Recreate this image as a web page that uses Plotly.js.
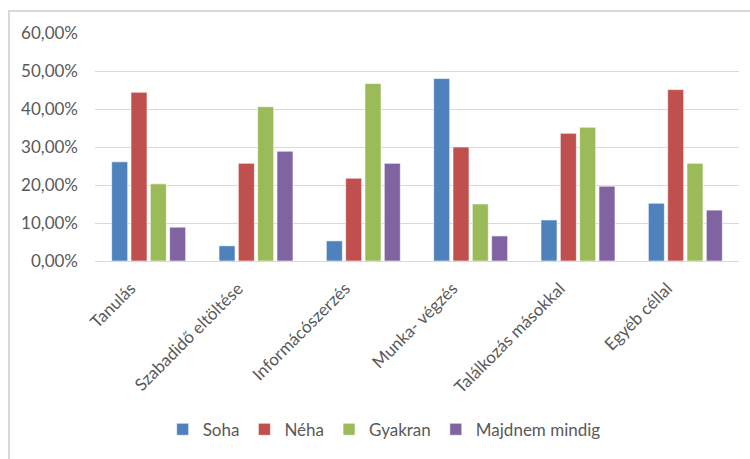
<!DOCTYPE html>
<html>
<head>
<meta charset="utf-8">
<script src="https://cdn.plot.ly/plotly-3.0.1.min.js"></script>
<style>
html,body{margin:0;padding:0;background:#fff;}
#wrap{position:relative;width:750px;height:459px;overflow:hidden;}
#frame{position:absolute;left:8px;top:10px;width:742px;height:449px;border-top:2px solid #D9D9D9;border-left:2px solid #D9D9D9;box-sizing:border-box;pointer-events:none;}
#chart{position:absolute;left:0;top:0;width:750px;height:459px;}
</style>
</head>
<body>
<div id="wrap"><div id="chart"></div><div id="frame"></div></div>
<script>
const categories = ["Tanulás", "Szabadidő eltöltése", "Informácószerzés", "Munka- végzés", "Találkozás másokkal", "Egyéb céllal"];
const seriesNames = ["Soha", "Néha", "Gyakran", "Majdnem mindig"];
const soha = [0.261, 0.040, 0.053, 0.480, 0.108, 0.152];
const neha = [0.444, 0.257, 0.218, 0.300, 0.336, 0.451];
const gyakran = [0.203, 0.406, 0.467, 0.150, 0.352, 0.257];
const majdnem = [0.089, 0.289, 0.257, 0.066, 0.197, 0.134];
const colors = ["#4F81BD", "#C0504D", "#9BBB59", "#8064A2"];

const values = [soha, neha, gyakran, majdnem];
const traces = values.map((v, i) => ({
  type: "bar",
  name: seriesNames[i],
  x: categories,
  y: v,
  marker: {color: colors[i], line: {color: "rgba(255,255,255,0.6)", width: 1}},
  hoverinfo: "x+y+name"
}));

const layout = {
  width: 750,
  height: 459,
  margin: {l: 95, r: 11, t: 33, b: 195},
  paper_bgcolor: "#ffffff",
  plot_bgcolor: "#ffffff",
  separators: ", ",
  font: {family: "Lato, 'Open Sans', sans-serif", size: 17, color: "#595959"},
  barmode: "group",
  bargap: 0.28,
  bargroupgap: 0.17,
  showlegend: true,
  legend: {
    orientation: "h",
    x: 0.449, xanchor: "center",
    y: -0.74, yanchor: "middle",
    font: {size: 17, color: "#595959"},
    itemwidth: 30,
    traceorder: "normal"
  },
  xaxis: {
    type: "category",
    tickangle: -45,
    showgrid: false,
    showline: true,
    linecolor: "#D9D9D9",
    linewidth: 1,
    ticks: "",
    ticklabelstandoff: 10,
    ticklabelshift: -18,
    tickfont: {size: 17, color: "#595959"},
    fixedrange: true
  },
  yaxis: {
    range: [0, 0.6],
    dtick: 0.1,
    tickformat: ".2%",
    showgrid: true,
    gridcolor: "#D9D9D9",
    gridwidth: 1,
    zeroline: false,
    showline: false,
    ticks: "",
    ticklabelstandoff: 16,
    tickfont: {size: 17, color: "#595959"},
    fixedrange: true
  }
};

Plotly.newPlot("chart", traces, layout, {displayModeBar: false, staticPlot: true});
</script>
</body>
</html>
